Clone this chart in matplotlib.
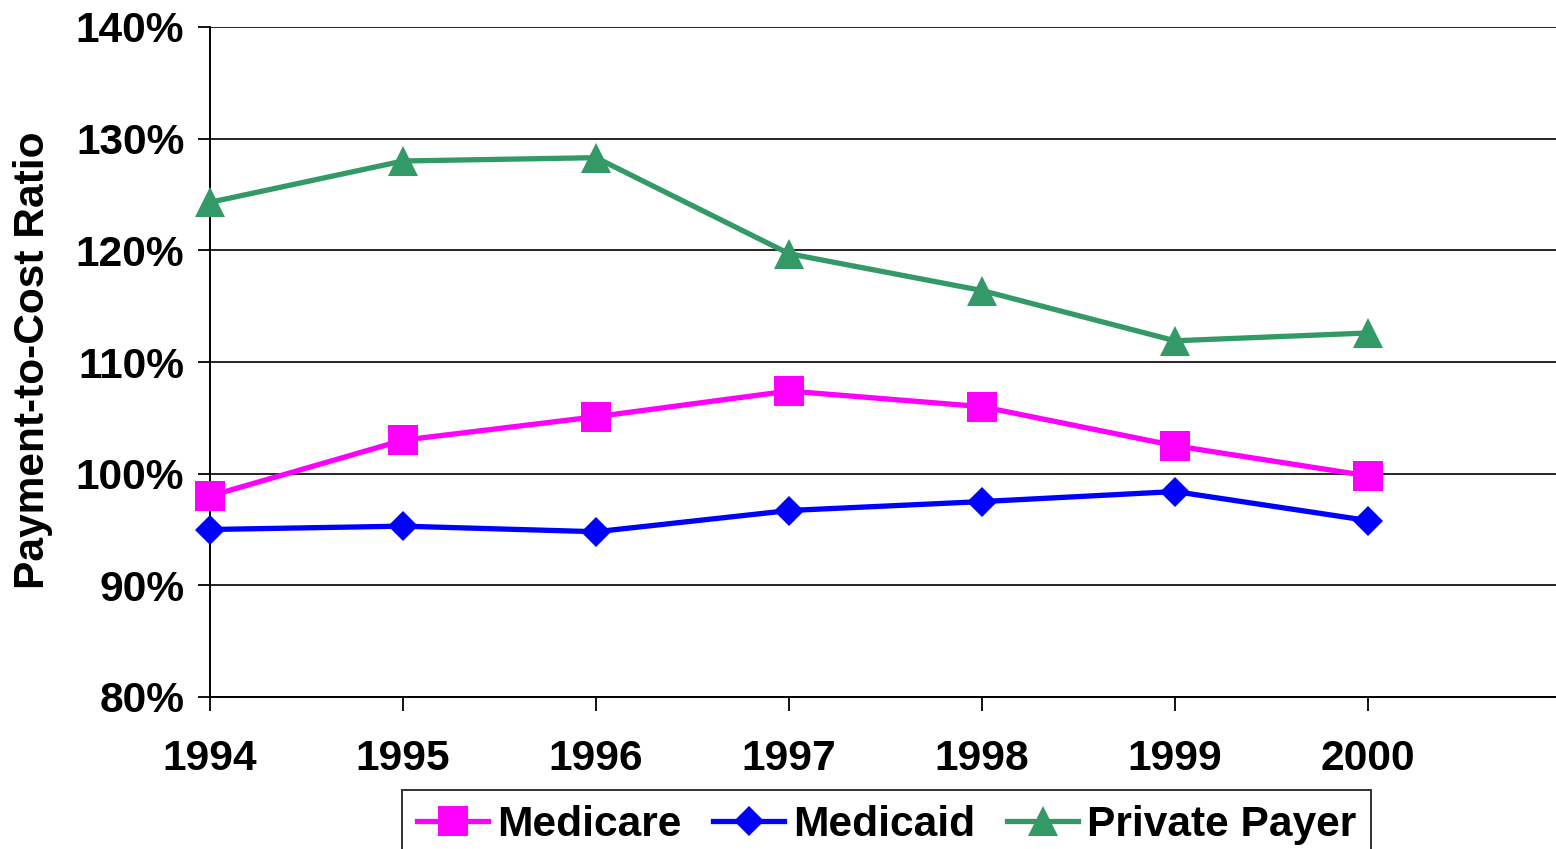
import matplotlib
matplotlib.use("Agg")
import matplotlib.pyplot as plt

years = [1994, 1995, 1996, 1997, 1998, 1999, 2000]
medicare = [98.0, 103.0, 105.1, 107.4, 106.0, 102.5, 99.8]
medicaid = [95.0, 95.3, 94.8, 96.7, 97.5, 98.4, 95.8]
private_payer = [124.3, 128.0, 128.3, 119.7, 116.4, 111.9, 112.6]
y_ticks = [80, 90, 100, 110, 120, 130, 140]

_FONT = "Liberation Sans"
_FS = 30.6

plt.rcParams["font.family"] = [_FONT, "DejaVu Sans"]
plt.rcParams["font.weight"] = "bold"

fig = plt.figure(figsize=(15.56, 8.49), dpi=100)
ax = fig.add_axes([210 / 1556, 1 - 697 / 849, 1351 / 1556, 670 / 849])

series = [
    ("Medicare", medicare, "#ff00ff", "s", 22),
    ("Medicaid", medicaid, "#0000ff", "D", 15),
    ("Private Payer", private_payer, "#339966", "^", 22),
]
for name, vals, color, marker, ms in series:
    ax.plot(years, vals, color=color, lw=3.8, marker=marker, markersize=ms,
            markeredgewidth=0, label=name, clip_on=False, zorder=3)

ax.set_xlim(1994, 2001)
ax.set_ylim(80, 140)
ax.set_xticks(years)
ax.set_xticklabels([str(y) for y in years], fontsize=_FS, fontweight="bold")
ax.set_yticks(y_ticks)
ax.set_yticklabels([f"{v}%" for v in y_ticks], fontsize=_FS, fontweight="bold")
ax.tick_params(axis="x", direction="out", length=10, width=1.3, pad=20)
ax.tick_params(axis="y", direction="out", length=8.5, width=1.3, pad=10)

ax.grid(axis="y", color="black", lw=1.2)
ax.set_axisbelow(True)
for spine in ["top", "right"]:
    ax.spines[spine].set_visible(False)
for spine in ["left", "bottom"]:
    ax.spines[spine].set_linewidth(1.4)

fig.text(13 / 1556, 1 - 360 / 849, "Payment-to-Cost Ratio", rotation=90,
         ha="left", va="center", fontsize=_FS, fontweight="bold")

leg = fig.legend(loc="upper center", bbox_to_anchor=(886.5 / 1556, 1 - 790 / 849),
                 ncol=3, frameon=True, fancybox=False, numpoints=1,
                 handlelength=1.68, handletextpad=0.2, columnspacing=0.75,
                 borderpad=0.35, borderaxespad=0,
                 prop={"family": _FONT, "weight": "bold", "size": _FS})
leg.get_frame().set_edgecolor("black")
leg.get_frame().set_linewidth(1.4)

fig.savefig("out.png", dpi=100)
